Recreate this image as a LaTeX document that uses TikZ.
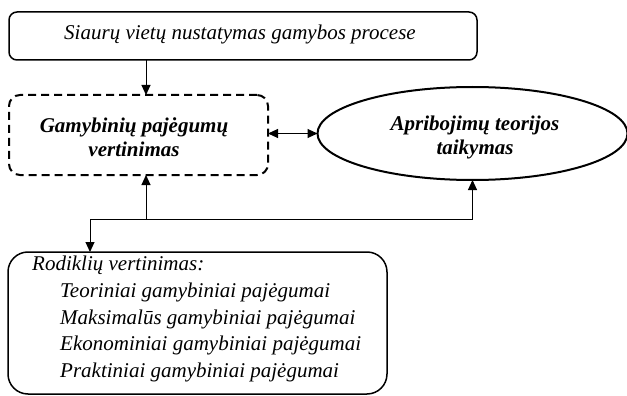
\documentclass[tikz,border=0pt]{standalone}
\usepackage{fontspec}
\setmainfont{Liberation Serif}
\usetikzlibrary{arrows.meta,shapes.geometric}
\begin{document}
\begin{tikzpicture}[x=1pt,y=-1pt,
  txt/.style={font=\fontsize{21}{24}\selectfont\itshape, inner sep=0pt},
  btxt/.style={font=\fontsize{21}{24}\selectfont\bfseries\itshape, align=center, inner sep=0pt},
  topbox/.style={draw, line width=1.5pt, rounded corners=8pt, inner sep=0pt, outer sep=0pt},
  dashbox/.style={draw, line width=2pt, dash pattern=on 8pt off 5pt, rounded corners=11pt, inner sep=0pt, outer sep=0pt},
  ellbox/.style={draw, ellipse, line width=2pt, inner sep=0pt, outer sep=0pt},
  rodbox/.style={draw, line width=1.5pt, rounded corners=20pt, inner sep=0pt, outer sep=0pt},
  conn/.style={line width=1pt, -{Triangle[length=10pt,width=9pt]}},
  dconn/.style={line width=1pt, {Triangle[length=10pt,width=9pt]}-{Triangle[length=10pt,width=9pt]}},
  plain/.style={line width=1pt}
]
\useasboundingbox (0,0) rectangle (627,396);

\node[topbox, minimum width=468pt, minimum height=48pt] (top) at (243,36) {};
\node[txt] (toptxt) at (240,34) {Siaurų vietų nustatymas gamybos procese};

\node[dashbox, minimum width=259pt, minimum height=80pt] (dash) at (138.5,135) {};
\node[btxt] (dashtxt) at (134,137) {Gamybinių pajėgumų\\vertinimas};

\node[ellbox, minimum width=310pt, minimum height=93pt] (ell) at (472.5,133.5) {};
\node[btxt] (elltxt) at (475,137) {Apribojimų teorijos\\taikymas};

\node[rodbox, minimum width=379pt, minimum height=142pt] (rod) at (197.5,323) {};
\node[txt, anchor=base west] (r0) at (32,270) {Rodiklių vertinimas:};
\node[txt, anchor=base west] (r1) at (60,297.5) {Teoriniai gamybiniai pajėgumai};
\node[txt, anchor=base west] (r2) at (60,324) {Maksimalūs gamybiniai pajėgumai};
\node[txt, anchor=base west] (r3) at (60,350.5) {Ekonominiai gamybiniai pajėgumai};
\node[txt, anchor=base west] (r4) at (60,377) {Praktiniai gamybiniai pajėgumai};

\coordinate (j) at (146,219);
\coordinate (k) at (90,219);

\draw[conn] (top.south -| j) -- (dash.north -| j);
\draw[dconn] (dash.east |- ell.west) -- (ell.west);
\draw[conn] (j) -- (dash.south -| j);
\draw[conn] (k) -| (ell.south);
\draw[conn] (k) -- (rod.north -| k);
\end{tikzpicture}
\end{document}
